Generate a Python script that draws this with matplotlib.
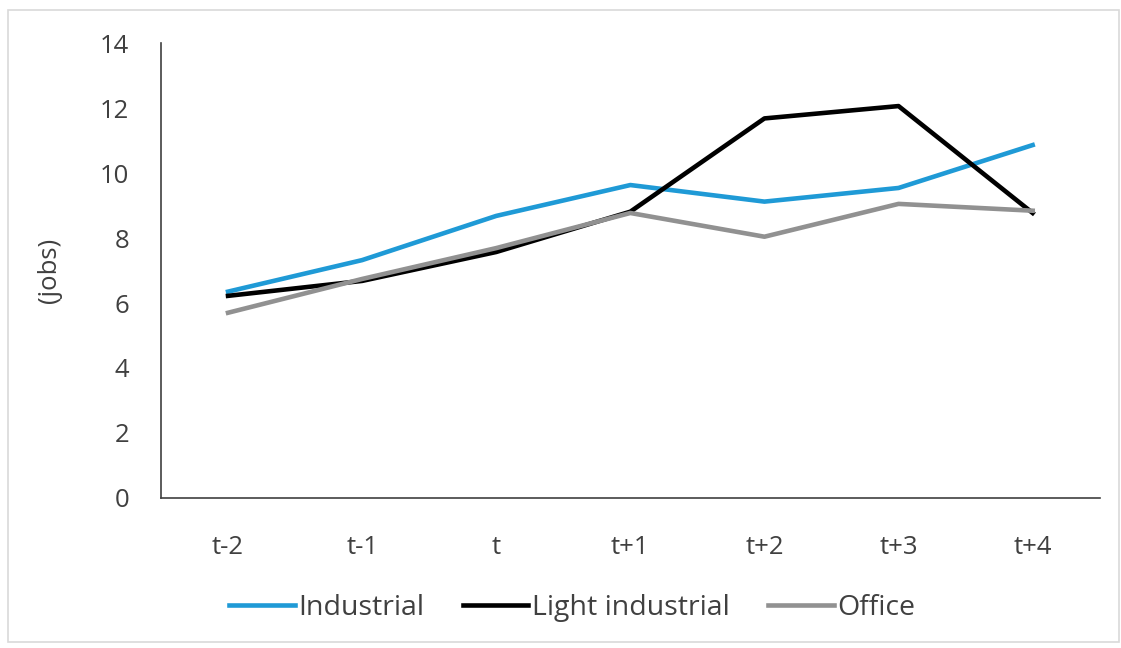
import numpy as np
import matplotlib.pyplot as plt
from matplotlib.patches import Rectangle

periods = ['t-2', 't-1', 't', 't+1', 't+2', 't+3', 't+4']
industrial = [6.35, 7.32, 8.68, 9.63, 9.12, 9.54, 10.86]
light_industrial = [6.22, 6.68, 7.57, 8.81, 11.68, 12.06, 8.77]
office = [5.70, 6.74, 7.69, 8.77, 8.04, 9.05, 8.84]

plt.rcParams['font.family'] = ['Open Sans', 'DejaVu Sans']

TEXT = '#404040'


def main():
    fig = plt.figure(figsize=(11.21, 6.48), dpi=100)
    # light frame round the whole chart
    fig.patches.append(Rectangle((0.0075, 0.009), 0.991, 0.976, transform=fig.transFigure,
                                 fill=False, edgecolor='#d9d9d9', linewidth=1.2))
    ax = fig.add_axes([0.1436, 0.2315, 0.8374, 0.7021])

    x = np.arange(len(periods))
    ax.plot(x, industrial, color='#1f9ad6', lw=3.3, label='Industrial', solid_joinstyle='round')
    ax.plot(x, light_industrial, color='black', lw=3.3, label='Light industrial', solid_joinstyle='round')
    ax.plot(x, office, color='#919191', lw=3.3, label='Office', solid_joinstyle='round')

    ax.set_xlim(-0.5, len(periods) - 0.5)
    ax.set_ylim(0, 14)
    ax.set_yticks(np.arange(0, 15, 2))
    ax.set_xticks(x)
    ax.set_xticklabels(periods)
    ax.tick_params(axis='both', length=0, labelsize=18.5, colors=TEXT)
    ax.tick_params(axis='y', pad=23)
    ax.tick_params(axis='x', pad=27)

    for side in ['top', 'right']:
        ax.spines[side].set_visible(False)
    for side in ['left', 'bottom']:
        ax.spines[side].set_color(TEXT)
        ax.spines[side].set_linewidth(1.2)

    ax.set_ylabel('(jobs)', fontsize=18.5, color=TEXT, labelpad=27)

    ax.legend(loc='center', bbox_to_anchor=(0.438, -0.242), ncol=3, frameon=False,
              fontsize=20.5, handlelength=2.3, handletextpad=0.12, columnspacing=1.35,
              labelcolor=TEXT)

    fig.savefig('out.png', dpi=100)


if __name__ == '__main__':
    main()
